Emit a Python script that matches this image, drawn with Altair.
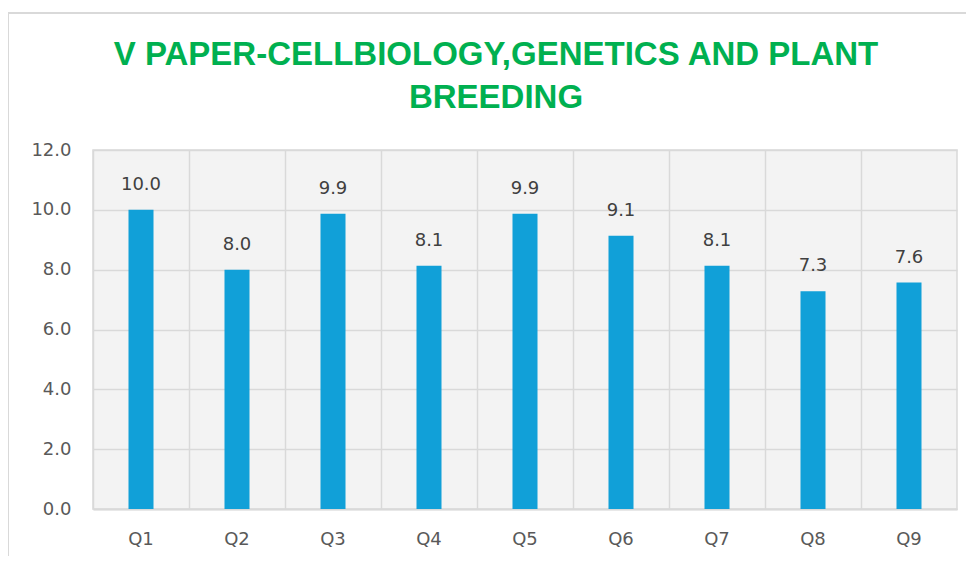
import altair as alt
import pandas as pd

categories = ["Q1", "Q2", "Q3", "Q4", "Q5", "Q6", "Q7", "Q8", "Q9"]
values = [10.0, 8.0, 9.87, 8.13, 9.87, 9.13, 8.13, 7.28, 7.57]
title_lines = ["V PAPER-CELLBIOLOGY,GENETICS AND PLANT", "BREEDING"]

df = pd.DataFrame({"q": categories, "v": values})

font = "DejaVu Sans"
x = alt.X("q:N", sort=categories, title=None,
          scale=alt.Scale(paddingInner=0, paddingOuter=0),
          axis=alt.Axis(labelAngle=0, labelFontSize=18, labelColor="#595959", labelFont=font,
                        labelPadding=21, ticks=False, domain=True, domainColor="#d9d9d9",
                        domainWidth=2, grid=True, gridColor="#d9d9d9", gridWidth=1.5,
                        bandPosition=0))
y = alt.Y("v:Q", title=None,
          scale=alt.Scale(domain=[0, 12]),
          axis=alt.Axis(values=[0, 2, 4, 6, 8, 10, 12], format=".1f", labelFontSize=18,
                        labelColor="#595959", labelFont=font, labelPadding=22, ticks=False,
                        domain=False, grid=True, gridColor="#d9d9d9", gridWidth=1.5))

bars = alt.Chart(df).mark_bar(size=25, color="#11a0d8").encode(x=x, y=y)
labels = alt.Chart(df).mark_text(baseline="alphabetic", dy=-20, fontSize=18, color="#404040",
                                 font=font).encode(
    x=alt.X("q:N", sort=categories), y="v:Q", text=alt.Text("v:Q", format=".1f"))

# light grey outer frame of the whole chart (its right and bottom edges fall outside the page)
frame = alt.Chart(df).mark_rect(filled=False, stroke="#d9d9d9", strokeWidth=2).encode(
    x=alt.value(-85), x2=alt.value(900), y=alt.value(-137), y2=alt.value(440))

chart = (frame + bars + labels).properties(
    width=864, height=359,
    autosize=alt.AutoSizeParams(type="none"),
    padding={"left": 85, "top": 142, "right": 9, "bottom": 47},
    title=alt.Title(title_lines, fontSize=33, font="Liberation Sans",
                    fontWeight="bold", color="#00b050", anchor="middle", lineHeight=43,
                    offset=-103, dx=-29),
    background="white",
).configure_view(stroke="#d9d9d9", strokeWidth=1.5, fill="#f3f3f3")

chart.save("out.html", embed_options={"renderer": "svg", "actions": False})
